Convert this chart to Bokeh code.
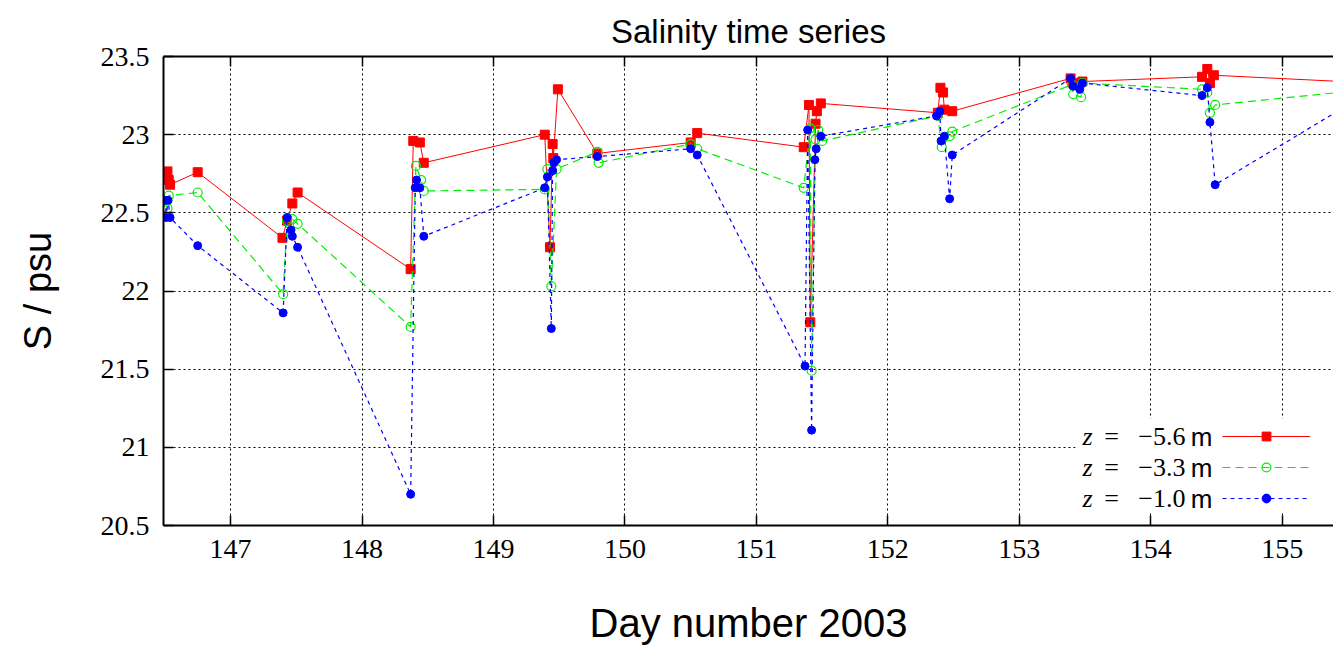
import math
from bokeh.plotting import figure
from bokeh.models import (Range1d, LinearAxis, FixedTicker, Legend, LegendItem,
                          Label, BoxAnnotation, CustomJSTickFormatter)
from bokeh.embed import file_html
from bokeh.resources import INLINE

# ---------------- data ----------------
x_ticks = [147, 148, 149, 150, 151, 152, 153, 154, 155]
x_tick_labels = ["147", "148", "149", "150", "151", "152", "153", "154", "155"]
y_ticks = [20.5, 21, 21.5, 22, 22.5, 23, 23.5]
y_tick_labels = ["20.5", "21", "21.5", "22", "22.5", "23", "23.5"]

depth_labels = ["\u22125.6", "\u22123.3", "\u22121.0"]

# z = -5.6 m
red_day = [146.50, 146.52, 146.53, 146.54, 146.75, 147.395, 147.43, 147.47, 147.51,
           148.37, 148.39, 148.44, 148.47, 149.39, 149.43, 149.45, 149.455, 149.49,
           149.79, 150.50, 150.55, 151.36, 151.40, 151.41, 151.45, 151.46, 151.49,
           152.38, 152.40, 152.42, 152.43, 152.49, 153.39, 153.41, 153.48, 154.39,
           154.43, 154.45, 154.48, 155.70]
red_sal = [22.74, 22.765, 22.71, 22.68, 22.76, 22.34, 22.45, 22.56, 22.63,
           22.14, 22.96, 22.95, 22.82, 23.00, 22.28, 22.94, 22.85, 23.29,
           22.88, 22.95, 23.01, 22.92, 23.19, 21.80, 23.07, 23.15, 23.20,
           23.14, 23.30, 23.27, 23.16, 23.15, 23.36, 23.33, 23.34, 23.37,
           23.42, 23.33, 23.38, 23.33]

# z = -3.3 m
green_day = [146.51, 146.52, 146.53, 146.75, 147.40, 147.43, 147.47, 147.51,
             148.37, 148.41, 148.45, 148.47, 149.39, 149.41, 149.44, 149.48,
             149.79, 149.80, 150.50, 150.55, 151.36, 151.41, 151.42, 151.45,
             151.47, 151.50, 152.38, 152.41, 152.47, 152.49, 153.40, 153.41,
             153.47, 153.48, 154.39, 154.43, 154.45, 154.49, 155.66]
green_sal = [22.57, 22.53, 22.61, 22.63, 21.98, 22.45, 22.46, 22.43,
             21.77, 22.80, 22.71, 22.64, 22.65, 22.78, 22.03, 22.78,
             22.89, 22.82, 22.94, 22.91, 22.66, 23.04, 21.49, 22.97,
             23.03, 22.96, 23.12, 22.92, 22.99, 23.02, 23.32, 23.26,
             23.24, 23.33, 23.29, 23.27, 23.14, 23.19, 23.29]

# z = -1.0 m
blue_day = [146.505, 146.51, 146.525, 146.54, 146.75, 147.40, 147.43, 147.46, 147.47,
            147.51, 148.37, 148.405, 148.415, 148.44, 148.47, 149.39, 149.41, 149.44,
            149.45, 149.46, 149.48, 149.79, 150.50, 150.55, 151.37, 151.39, 151.42,
            151.445, 151.455, 151.49, 152.37, 152.395, 152.405, 152.43, 152.47, 152.49,
            153.39, 153.41, 153.46, 153.48, 154.39, 154.43, 154.45, 154.49, 155.56]
blue_sal = [22.58, 22.47, 22.58, 22.47, 22.29, 21.86, 22.47, 22.39, 22.35,
            22.28, 20.70, 22.66, 22.71, 22.66, 22.35, 22.66, 22.73, 21.76,
            22.77, 22.82, 22.84, 22.86, 22.91, 22.87, 21.52, 23.03, 21.11,
            22.84, 22.91, 22.99, 23.12, 23.15, 22.96, 22.99, 22.59, 22.87,
            23.36, 23.31, 23.29, 23.33, 23.25, 23.30, 23.08, 22.68, 23.22]

# ---------------- figure ----------------
p = figure(width=1333, height=647, output_backend="svg", toolbar_location=None,
           x_range=Range1d(146.49, 155.39), y_range=Range1d(20.5, 23.5),
           min_border_left=163, min_border_right=0, min_border_top=56,
           min_border_bottom=119)
p.outline_line_color = None
p.background_fill_color = "white"
p.border_fill_color = "white"

p.title.text = "Salinity time series"
p.title.align = "center"
p.title.vertical_align = "top"
p.title.text_font = "Liberation Sans"
p.title.text_font_style = "normal"
p.title.text_font_size = "33px"
p.title.text_color = "black"
p.title.standoff = 9
p.title.offset = 9

# axes
p.xaxis.ticker = FixedTicker(ticks=x_ticks)
p.xaxis.major_label_overrides = dict(zip(x_ticks, x_tick_labels))
p.yaxis.ticker = FixedTicker(ticks=y_ticks)
p.yaxis.major_label_overrides = dict(zip(y_ticks, y_tick_labels))
for ax in (p.xaxis[0], p.yaxis[0]):
    ax.axis_line_width = 2
    ax.axis_line_color = "black"
    ax.major_tick_in = 10
    ax.major_tick_out = 0
    ax.major_tick_line_width = 1.5
    ax.major_tick_line_color = "black"
    ax.minor_tick_in = 0
    ax.minor_tick_out = 0
    ax.major_label_text_font = "Liberation Serif"
    ax.major_label_text_color = "black"
p.yaxis.major_label_text_font_size = "28px"
p.yaxis.major_label_standoff = 14
p.yaxis.axis_label = "S / psu"
p.yaxis.axis_label_text_font = "Liberation Sans"
p.yaxis.axis_label_text_font_style = "normal"
p.yaxis.axis_label_text_font_size = "38px"
p.yaxis.axis_label_text_color = "black"
p.yaxis.axis_label_standoff = 39

p.xaxis.major_label_text_font_size = "28px"
p.xaxis.major_label_text_line_height = 0.8
p.xaxis.major_label_standoff = 14
p.xaxis.axis_label = "Day number 2003"
p.xaxis.axis_label_text_font = "Liberation Sans"
p.xaxis.axis_label_text_font_style = "normal"
p.xaxis.axis_label_text_font_size = "40px"
p.xaxis.axis_label_text_color = "black"
p.xaxis.axis_label_text_line_height = 0.8
p.xaxis.axis_label_standoff = 40

top = LinearAxis(ticker=FixedTicker(ticks=x_ticks),
                 formatter=CustomJSTickFormatter(code="return ''"),
                 axis_line_width=2, axis_line_color="black",
                 major_tick_in=10, major_tick_out=0, major_tick_line_width=1.5,
                 minor_tick_in=0, minor_tick_out=0, major_label_standoff=0)
p.add_layout(top, "above")

p.xgrid.ticker = FixedTicker(ticks=x_ticks)
p.ygrid.ticker = FixedTicker(ticks=y_ticks)
p.grid.grid_line_color = "black"
p.grid.grid_line_dash = "2 3"
p.grid.grid_line_width = 1

# ---------------- series ----------------
red = "#ff0000"
green = "#00ee00"
blue = "#0000ff"

r_line = p.line(red_day, red_sal, line_color=red, line_width=1)
r_pts = p.scatter(red_day, red_sal, marker="square", size=9,
                  fill_color=red, line_color=red)
g_line = p.line(green_day, green_sal, line_color=green, line_width=1.2,
                line_dash="8 5")
g_pts = p.scatter(green_day, green_sal, marker="circle", size=9,
                  fill_color=None, line_color=green, line_width=1.2)
b_line = p.line(blue_day, blue_sal, line_color=blue, line_width=1.2,
                line_dash="4 4")
b_pts = p.scatter(blue_day, blue_sal, marker="circle", size=8,
                  fill_color=blue, line_color=blue)

# ---------------- legend (text left, sample right) ----------------
box = BoxAnnotation(left=912, right=1170, bottom=13, top=107,
                    left_units="screen", right_units="screen",
                    bottom_units="screen", top_units="screen",
                    fill_color="white", fill_alpha=1.0, line_color=None)
p.add_layout(box)

legend = Legend(items=[LegendItem(label="", renderers=[r_line, r_pts]),
                       LegendItem(label="", renderers=[g_line, g_pts]),
                       LegendItem(label="", renderers=[b_line, b_pts])],
                location=(1059, 16), glyph_width=88, glyph_height=22,
                spacing=9, padding=0, margin=0, label_standoff=0,
                label_width=0, label_height=0, border_line_color=None,
                background_fill_alpha=0)
p.add_layout(legend)

rows_y = [89, 58, 27]
for ry, dl in zip(rows_y, depth_labels):
    p.add_layout(Label(x=919, y=ry, text="z", x_units="screen", y_units="screen",
                       text_font="Liberation Serif", text_font_style="italic",
                       text_font_size="26px", text_align="left",
                       text_baseline="middle", text_color="black"))
    p.add_layout(Label(x=948, y=ry, text="=", x_units="screen", y_units="screen",
                       text_font="Liberation Serif", text_font_size="26px",
                       text_align="center", text_baseline="middle",
                       text_color="black"))
    p.add_layout(Label(x=1022, y=ry, text=dl, x_units="screen", y_units="screen",
                       text_font="Liberation Serif", text_font_size="26px",
                       text_align="right", text_baseline="middle",
                       text_color="black"))
    p.add_layout(Label(x=1049, y=ry, text="m", x_units="screen", y_units="screen",
                       text_font="Liberation Sans", text_font_size="26px",
                       text_align="right", text_baseline="middle",
                       text_color="black"))

open("out.html", "w").write(file_html(p, INLINE))
